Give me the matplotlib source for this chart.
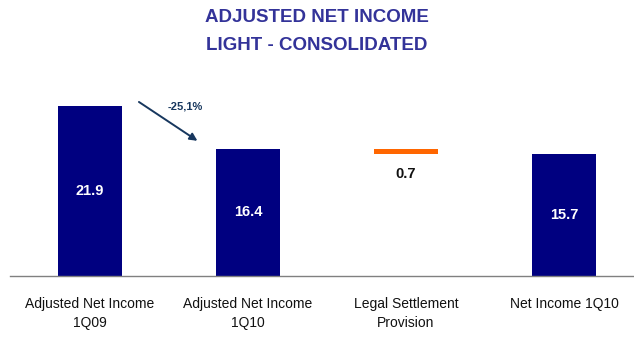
import matplotlib
matplotlib.use("Agg")
import matplotlib.pyplot as plt
from matplotlib import font_manager

categories = ["Adjusted Net Income\n1Q09", "Adjusted Net Income\n1Q10",
              "Legal Settlement\nProvision", "Net Income 1Q10"]
values = [21.9, 16.4, 0.7, 15.7]
change_label = "-25,1%"

names = {f.name for f in font_manager.fontManager.ttflist}
narrow = "Liberation Sans Narrow" if "Liberation Sans Narrow" in names else "Liberation Sans"
plt.rcParams['font.family'] = [narrow, 'DejaVu Sans']

navy = "#000080"
orange = "#FF6600"

fig = plt.figure(figsize=(6.34, 3.37), dpi=100)
ax = fig.add_axes([10 / 634, 61 / 337, 624 / 634, 216 / 337])

x = list(range(len(categories)))
bottoms = [0, 0, values[3], 0]
colors = [navy, navy, orange, navy]
ax.bar(x, values, bottom=bottoms, width=0.405, color=colors)

# value labels
for i in [0, 1, 3]:
    ax.text(i, values[i] / 2, f"{values[i]:.1f}", ha="center", va="center",
            color="white", fontsize=10.5, fontweight="bold")
ax.text(2, values[3] - 2.6, f"{values[2]:.1f}", ha="center", va="center",
        color="#111111", fontsize=10.5, fontweight="bold")

# change arrow
ax.annotate("", xy=(0.68, values[1] + 1.0), xytext=(0.31, values[0] + 0.5),
            arrowprops=dict(arrowstyle="-|>", color="#17375E", lw=1.4,
                            mutation_scale=11, shrinkA=0, shrinkB=0))
ax.text(0.6, values[0] - 0.05, change_label, ha="center", va="center",
        fontsize=8, fontweight="bold", color="#17375E")

ax.set_xlim(-0.506, 3.443)
ax.set_ylim(0, 27.8)
ax.set_xticks(x)
ax.set_xticklabels(categories, fontsize=10, color="#111111", linespacing=1.5)
ax.tick_params(axis="x", length=0, pad=15)
ax.set_yticks([])
for s in ["top", "right", "left"]:
    ax.spines[s].set_visible(False)
ax.spines["bottom"].set_color("#808080")
ax.spines["bottom"].set_linewidth(1.0)

fig.text(0.5, 1 - 18 / 337, "ADJUSTED NET INCOME", ha="center", va="center",
         fontsize=13.5, fontweight="bold", color="#333399")
fig.text(0.5, 1 - 45 / 337, "LIGHT - CONSOLIDATED", ha="center", va="center",
         fontsize=13.5, fontweight="bold", color="#333399")

fig.savefig("out.png", dpi=100)
